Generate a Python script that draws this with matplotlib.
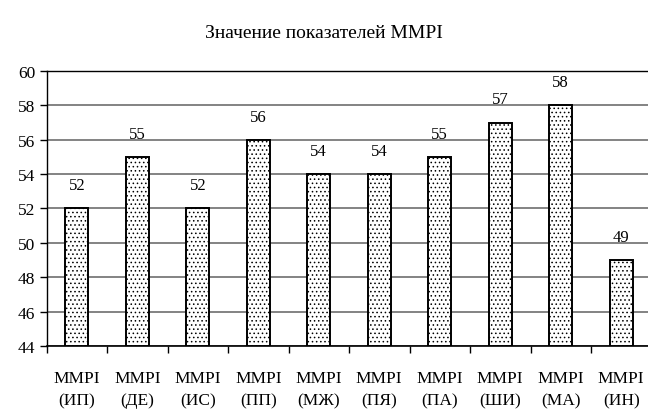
import numpy as np
import matplotlib.pyplot as plt

plt.rcParams['font.family'] = ['Liberation Serif', 'DejaVu Serif']
plt.rcParams['hatch.color'] = '#555555'
plt.rcParams['hatch.linewidth'] = 0.6

# данные
codes = ["ИП", "ДЕ", "ИС", "ПП", "МЖ", "ПЯ", "ПА", "ШИ", "МА", "ИН"]
values = [52, 55, 52, 56, 54, 54, 55, 57, 58, 49]
yticks = [44, 46, 48, 50, 52, 54, 56, 58, 60]

labels = [f"MMPI\n({c})" for c in codes]
x = np.arange(len(values))

fig = plt.figure(figsize=(6.48, 4.10), dpi=100)
ax = fig.add_axes([0.0718, 0.1537, 0.9336, 0.6707])

ax.bar(x, np.array(values) - 44, bottom=44, width=0.38, color='white',
       edgecolor='black', linewidth=1.4, hatch='....', zorder=3)

for xi, v in zip(x, values):
    ax.text(xi, v + 1.35, str(v), ha='center', va='center', fontsize=12)

ax.set_xlim(-0.5, len(values) - 0.5)
ax.set_ylim(44, 60)
ax.set_yticks(yticks)
ax.yaxis.grid(True, color='#6e6e6e', linewidth=1.2, zorder=0)
ax.tick_params(axis='y', labelsize=12.5, length=5, width=1, pad=3)

# подписи категорий и засечки между ними
ax.set_xticks(x)
ax.set_xticklabels(labels, fontsize=12.5, linespacing=1.55)
ax.tick_params(axis='x', which='major', length=0, pad=17)
ax.set_xticks(np.arange(len(values)) - 0.5, minor=True)
ax.tick_params(axis='x', which='minor', length=5, width=1)

ax.spines['right'].set_visible(False)
ax.spines['left'].set_linewidth(1)
ax.spines['bottom'].set_linewidth(1.2)
ax.spines['top'].set_linewidth(1)

fig.text(0.5, 0.918, "Значение показателей MMPI", ha='center', va='center', fontsize=14)

fig.savefig("out.png", dpi=100)
